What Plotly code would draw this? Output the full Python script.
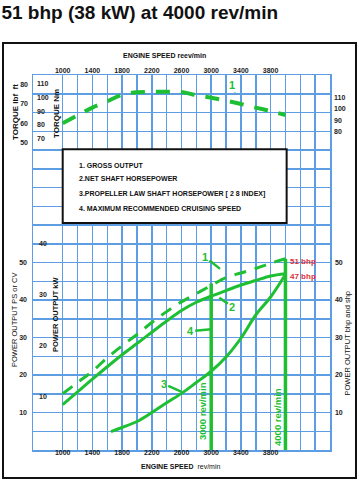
import plotly.graph_objects as go

# ---------------- data ----------------
title_text = "51 bhp (38 kW) at 4000 rev/min"

rpm_torque = [1000, 1200, 1400, 1600, 1800, 2000, 2200, 2400, 2600, 2800, 3000, 3200, 3400, 3600, 3800, 4000]
torque_nm = [81.2, 87.0, 92.6, 97.1, 101.9, 103.7, 104.0, 104.0, 103.9, 101.5, 99.7, 97.6, 95.2, 92.6, 90.0, 87.2]

rpm_power = [1000, 1200, 1400, 1600, 1800, 2000, 2200, 2400, 2600, 2800, 3000, 3200, 3400, 3600, 3800, 4000]
gross_bhp = [15.0, 18.0, 21.0, 24.6, 27.8, 30.8, 34.0, 36.9, 39.5, 41.7, 43.9, 46.0, 47.2, 48.4, 49.8, 51.0]
net_bhp = [12.1, 15.5, 18.9, 22.2, 25.4, 28.4, 31.4, 34.4, 37.2, 39.4, 41.0, 42.5, 44.0, 45.2, 46.4, 47.0]

rpm_prop = [1650, 1800, 2000, 2200, 2400, 2600, 2800, 3000, 3200, 3400, 3600, 3800, 4000]
prop_bhp = [4.9, 6.0, 7.6, 10.0, 12.6, 15.1, 18.0, 21.0, 24.8, 29.8, 36.0, 40.8, 46.8]

ref_rpm = [3000, 4000]
ref_top_bhp = [44.4, 51.0]
ref_labels = ["3000 rev/min", "4000 rev/min"]

rated_values = [51, 47]
rated_labels = ["51 bhp", "47 bhp"]

speed_ticks = [1000, 1400, 1800, 2200, 2600, 3000, 3400, 3800]
bhp_ticks = [10, 20, 30, 40, 50]
ps_ticks = [10, 20, 30, 40, 50]
kw_ticks = [10, 20, 30, 40]
nm_ticks = [70, 80, 90, 100, 110]
lbfft_ticks = [50, 60, 70, 80]
torque_right_ticks = [80, 90, 100, 110]

legend_lines = [
    "1. GROSS OUTPUT",
    "2.NET SHAFT HORSEPOWER",
    "3.PROPELLER LAW SHAFT HORSEPOWER [ 2 8 INDEX]",
    "4. MAXIMUM RECOMMENDED CRUISING SPEED",
]

# ---------------- style ----------------
GREEN = "#1fbf33"
GRID = "#5d9de3"
RED = "#e0303a"
FONT = "Liberation Sans, Arial, sans-serif"
tickfont = dict(family=FONT, size=7, color="#222", weight="bold")

fig = go.Figure()

# torque (Nm axis)
fig.add_trace(go.Scatter(x=rpm_torque, y=torque_nm, yaxis="y4", mode="lines",
                         line=dict(color=GREEN, width=4, dash="14px,11px", shape="spline"),
                         hoverinfo="skip"))
# gross output
fig.add_trace(go.Scatter(x=rpm_power, y=gross_bhp, mode="lines",
                         line=dict(color=GREEN, width=3, dash="12px,9px", shape="spline"),
                         hoverinfo="skip"))
# net shaft
fig.add_trace(go.Scatter(x=rpm_power, y=net_bhp, mode="lines",
                         line=dict(color=GREEN, width=3, shape="spline"), hoverinfo="skip"))
# propeller law
fig.add_trace(go.Scatter(x=rpm_prop, y=prop_bhp, mode="lines",
                         line=dict(color=GREEN, width=3, shape="spline"), hoverinfo="skip"))
# reference speed lines
for r, top in zip(ref_rpm, ref_top_bhp):
    fig.add_trace(go.Scatter(x=[r, r], y=[0, top], mode="lines",
                             line=dict(color=GREEN, width=3.5), hoverinfo="skip"))

ann = []
# curve number labels with leader lines
label_font = dict(family=FONT, size=11, color=GREEN, weight="bold")
ann.append(dict(x=3119, y=48.3, xref="x", yref="y", text="1", ax=-15, ay=-12, showarrow=True,
                arrowhead=0, arrowwidth=2.5, arrowcolor=GREEN, font=label_font))
ann.append(dict(x=3109, y=40.6, xref="x", yref="y", text="2", ax=13, ay=9, showarrow=True,
                arrowhead=0, arrowwidth=2.5, arrowcolor=GREEN, font=label_font))
ann.append(dict(x=2603, y=15.5, xref="x", yref="y", text="3", ax=-18, ay=-8, showarrow=True,
                arrowhead=0, arrowwidth=2.5, arrowcolor=GREEN, font=label_font))
ann.append(dict(x=3000, y=32.2, xref="x", yref="y", text="4", ax=-21, ay=2, showarrow=True,
                arrowhead=0, arrowwidth=2.5, arrowcolor=GREEN, font=label_font))
ann.append(dict(x=3320, y=95.2, xref="x", yref="y", text="1", ax=-3, ay=-8, showarrow=True,
                arrowhead=0, arrowwidth=2, arrowcolor=GREEN, font=label_font))

# reference rpm texts
for r, lab, yy in zip(ref_rpm, ref_labels, [10.3, 8.8]):
    ann.append(dict(x=r, y=yy, xref="x", yref="y", text=lab, textangle=-90, showarrow=False,
                    xshift=-8.5, font=dict(family=FONT, size=9.5, color=GREEN, weight="bold")))

# rated outputs
for v, lab in zip(rated_values, rated_labels):
    ann.append(dict(x=4040, y=v, xref="x", yref="y", text=lab, showarrow=False, xanchor="left",
                    yshift=-2.5, font=dict(family=FONT, size=8, color=RED, weight="bold")))

# legend text
for i, line in enumerate(legend_lines):
    ann.append(dict(x=0.147, y=[0.760, 0.7245, 0.6827, 0.6453][i], xref="paper", yref="paper",
                    text=line, showarrow=False, xanchor="left", yanchor="middle",
                    font=dict(family=FONT, size=7, color="#111", weight="bold")))

# axis titles
ttl_b = dict(family=FONT, size=7, color="#111", weight="bold")
ttl_r = dict(family=FONT, size=7.5, color="#111")
titles = [
    dict(x=0.444, y=1.0515, text="ENGINE SPEED reev/min", font=ttl_b),
    dict(x=0.498, y=-0.0453, text="<b>ENGINE SPEED</b>  rev/min",
         font=dict(family=FONT, size=7, color="#111")),
    dict(x=-0.0606, y=0.3467, text="POWER OUTPUT PS or CV", textangle=-90, font=ttl_r),
    dict(x=0.0774, y=0.3627, text="POWER OUTPUT kW", textangle=-90,
         font=dict(family=FONT, size=7.5, color="#111", weight="bold")),
    dict(x=-0.0606, y=0.9013, text="TORQUE lbf  ft", textangle=-90,
         font=dict(family=FONT, size=8, color="#111", weight="bold")),
    dict(x=0.0808, y=0.8987, text="TORQUE Nm", textangle=-90,
         font=dict(family=FONT, size=8, color="#111", weight="bold")),
    dict(x=1.0606, y=0.284, text="POWER OUTPUT bhp and shp", textangle=-90, font=ttl_r),
]
for t in titles:
    t.update(xref="paper", yref="paper", showarrow=False, xanchor="center", yanchor="middle")
    ann.append(t)

shapes = [
    # outer frame
    dict(type="rect", xref="paper", yref="paper", x0=-0.101, x1=1.0875, y0=-0.0747, y1=1.0853,
         line=dict(color="#111", width=2), layer="below"),
    # legend box
    dict(type="rect", xref="paper", yref="paper", x0=0.100, x1=0.854, y0=0.6053, y1=0.8019,
         line=dict(color="#111", width=2), fillcolor="white", layer="above"),
]

common_y = dict(showgrid=False, zeroline=False, ticks="", tickfont=tickfont, showline=False,
                tickmode="array", automargin=False)

fig.update_layout(
    width=359, height=480, autosize=False,
    margin=dict(l=33, r=29, t=75, b=30),
    paper_bgcolor="white", plot_bgcolor="white",
    showlegend=False,
    title=dict(text="<b>" + title_text + "</b>", x=0.004, xref="container", xanchor="left",
               y=0.975, yref="container", yanchor="middle",
               font=dict(family=FONT, size=19, color="#111")),
    xaxis=dict(range=[600, 4600], tickmode="array", tickvals=speed_ticks, ticks="",
               tickfont=tickfont, showgrid=True, gridcolor=GRID, gridwidth=1.5, zeroline=False,
               showline=True, linecolor=GRID, linewidth=1.5, mirror=True, ticklabelstandoff=-5,
               automargin=False,
               minor=dict(tickmode="linear", tick0=600, dtick=200, showgrid=True,
                          gridcolor=GRID, gridwidth=1.5, ticks="")),
    xaxis2=dict(range=[600, 4600], overlaying="x", side="top", anchor="y", tickmode="array",
                tickvals=speed_ticks, ticks="", tickfont=tickfont, showgrid=False,
                zeroline=False, showline=False, ticklabelstandoff=0, automargin=False),
    yaxis=dict(range=[0, 100], side="right", anchor="x", tickmode="array", tickvals=bhp_ticks,
               ticks="", tickfont=tickfont, showgrid=True, gridcolor=GRID, gridwidth=1.5,
               zeroline=False, showline=True, linecolor=GRID, linewidth=1.5, mirror=True,
               ticklabelstandoff=2, automargin=False,
               minor=dict(tickmode="linear", tick0=0, dtick=5, showgrid=True,
                          gridcolor=GRID, gridwidth=1.5, ticks="")),
    yaxis2=dict(common_y, range=[0, 100], overlaying="y", side="left", anchor="x",
                tickvals=ps_ticks, ticklabelstandoff=5),
    yaxis3=dict(common_y, range=[-0.55, 73.07], overlaying="y", side="left", anchor="x",
                tickvals=kw_ticks, ticklabelposition="inside", ticklabelstandoff=3),
    yaxis4=dict(common_y, range=[-155.5, 116.2], overlaying="y", side="left", anchor="x",
                tickvals=nm_ticks, ticklabelposition="inside", ticklabelstandoff=1),
    yaxis5=dict(common_y, range=[-107.4, 84.87], overlaying="y", side="left", anchor="x",
                tickvals=lbfft_ticks, ticklabelstandoff=4),
    yaxis6=dict(common_y, range=[-194.2, 129.05], overlaying="y", side="right", anchor="x",
                tickvals=torque_right_ticks, ticklabelstandoff=3),
    annotations=ann,
    shapes=shapes,
)

# placeholder traces so every extra axis is drawn
for ax_y in ["y2", "y3", "y5", "y6"]:
    fig.add_trace(go.Scatter(x=[None], y=[None], yaxis=ax_y, showlegend=False, hoverinfo="skip"))
fig.add_trace(go.Scatter(x=[None], y=[None], xaxis="x2", showlegend=False, hoverinfo="skip"))

fig.write_html("out.html", config={"displayModeBar": False, "staticPlot": True},
               post_script="document.body.style.margin='0';document.body.style.overflow='hidden';")
